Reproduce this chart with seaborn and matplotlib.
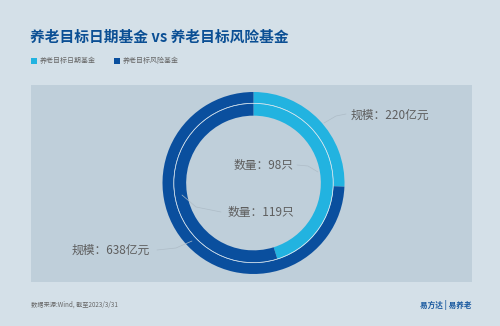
import matplotlib
matplotlib.use("Agg")
import matplotlib.pyplot as plt
import seaborn as sns
from matplotlib.patches import Rectangle, Circle

sns.set_style("white")
plt.rcParams['font.family'] = ['Noto Sans CJK SC', 'DejaVu Sans']

# ---- data ----
categories = ["养老目标日期基金", "养老目标风险基金"]
scale_values = [220, 638]      # 规模（亿元）
count_values = [98, 119]       # 数量（只）
scale_labels = ["规模：220亿元", "规模：638亿元"]
count_labels = ["数量：98只", "数量：119只"]
title = "养老目标日期基金 vs 养老目标风险基金"
source = "数据来源:Wind, 截至2023/3/31"

colors = sns.color_palette(["#22b3e0", "#0a4f9e"])
BG = "#d4e0e8"
PANEL = "#bfcfda"
W, H = 500, 326

fig = plt.figure(figsize=(5, 3.26), dpi=100, facecolor=BG)

def fx(px):
    return px / W

def fy(py):
    return 1 - py / H

# panel
fig.patches.append(Rectangle((fx(31), fy(282)), fx(472) - fx(31), fy(85) - fy(282),
                             transform=fig.transFigure, facecolor=PANEL, edgecolor="none", zorder=-10))

# title
fig.text(fx(30), fy(37), title, fontsize=10.6, fontweight="bold", color="#0b4f94", va="center", ha="left")

# legend
lx = [31, 114]
for i, cat in enumerate(categories):
    fig.patches.append(Rectangle((fx(lx[i]), fy(64)), fx(6), 6 / H, transform=fig.transFigure,
                                 facecolor=colors[i], edgecolor="none"))
    fig.text(fx(lx[i] + 9), fy(60.5), cat, fontsize=5, color="#666666", va="center", ha="left")

# footer
fig.text(fx(31), fy(305), source, fontsize=4.5, color="#666666", va="center", ha="left")
fig.text(fx(472), fy(305), "易方达 | 易养老", fontsize=5.5, fontweight="bold", color="#1a5aa0",
         va="center", ha="right")

# donut axes
cx, cy, R = 253.5, 183, 91
ax = fig.add_axes([fx(cx - R), fy(cy + R), 2 * R / W, 2 * R / H])
ax.set_zorder(5)
ax.set_facecolor("none")
ax.pie(scale_values, colors=colors, radius=1.0, startangle=90, counterclock=False,
       wedgeprops=dict(width=0.12, edgecolor="none"))
ax.pie(count_values, colors=colors, radius=0.875, startangle=90, counterclock=False,
       wedgeprops=dict(width=0.135, edgecolor="none"))
ax.add_patch(Circle((0, 0), 0.875, fill=False, edgecolor="#e8f2f8", linewidth=0.45))
ax.set_xlim(-1, 1)
ax.set_ylim(-1, 1)
ax.set_aspect("equal")
ax.axis("off")

def d(px, py):
    return ((px - cx) / R, (cy - py) / R)

lc = "#aebcc7"
txt = dict(fontsize=8.5, color="#5e5e5e", va="center")
# 规模 220
p = [d(324, 123), d(336, 116), d(346, 114)]
ax.plot([a for a, b in p], [b for a, b in p], color=lc, lw=0.5, clip_on=False)
ax.text(*d(351, 115), scale_labels[0], ha="left", **txt)
# 数量 98
p = [d(318, 172), d(308, 166), d(297, 165)]
ax.plot([a for a, b in p], [b for a, b in p], color=lc, lw=0.5, clip_on=False)
ax.text(*d(294, 165), count_labels[0], ha="right", **txt)
# 数量 119
p = [d(182, 195), d(196, 207), d(221, 212)]
ax.plot([a for a, b in p], [b for a, b in p], color=lc, lw=0.5, clip_on=False)
ax.text(*d(294, 212), count_labels[1], ha="right", **txt)
# 规模 638
p = [d(192, 241), d(176, 248), d(157, 250)]
ax.plot([a for a, b in p], [b for a, b in p], color=lc, lw=0.5, clip_on=False)
ax.text(*d(150, 250), scale_labels[1], ha="right", **txt)

fig.savefig("out.png", dpi=100, facecolor=BG)
